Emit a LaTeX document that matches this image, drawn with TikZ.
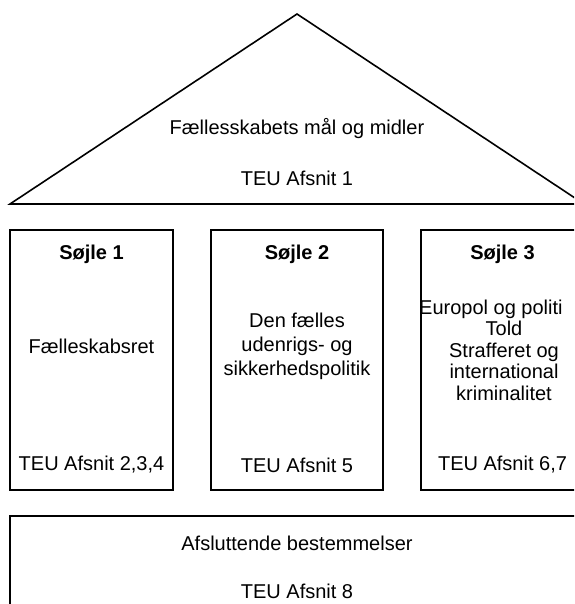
\documentclass[tikz,border=0pt]{standalone}
\usepackage{fontspec}
\setmainfont{Liberation Sans}
\begin{document}
\begin{tikzpicture}[x=1pt, y=-1pt,
		pillar/.style={draw, line width=1.6pt, minimum height=260pt, inner sep=0pt},
		txt/.style={font=\fontsize{20}{24}\selectfont, align=center, inner sep=0pt},
		head/.style={txt, font=\fontsize{20}{24}\selectfont\bfseries}]
			\useasboundingbox (0,0) rectangle (574,604);
			\clip (0,0) rectangle (574,604);

			% Draw roof
			\draw[line width=1.6pt, line join=miter] (10,204) -- (297,14) -- (584,204) -- cycle;
			\node[txt] (maal) at (297,129) {Fællesskabets mål og midler};
			\node[txt] (teu1) at (297,178) {TEU Afsnit 1};

			% Draw pillars
			\node[pillar, minimum width=163pt] (s1) at (91.5,360) {};
			\node[pillar, minimum width=172pt] (s2) at (297,360) {};
			\node[pillar, minimum width=163pt] (s3) at (502.5,360) {};

			\node[head] (h1) at (91.5,254) {Søjle 1};
			\node[head] (h2) at (297,254) {Søjle 2};
			\node[head] (h3) at (502.5,254) {Søjle 3};

			\node[txt] (ret) at (91.5,346) {Fælleskabsret};
			\node[txt] (fusp) at (297,346) {Den fælles\\udenrigs- og\\sikkerhedspolitik};
			\node[txt, anchor=base west] (pol) at (419,314) {Europol og politi};
			\foreach \line [count=\i] in {Told, Strafferet og, international, kriminalitet}
				\node[txt, anchor=base] (l\i) at (504,314+21.5*\i) {\line};

			\node[txt] (teu2) at (91.5,465) {TEU Afsnit 2,3,4};
			\node[txt] (teu5) at (297,465) {TEU Afsnit 5};
			\node[txt] (teu6) at (502.5,465) {TEU Afsnit 6,7};

			% Draw foundation
			\node[pillar, minimum width=574pt, minimum height=130pt] (fund) at (297,581) {};
			\node[txt] (afsl) at (297,543) {Afsluttende bestemmelser};
			\node[txt] (teu8) at (297,591) {TEU Afsnit 8};
		\end{tikzpicture}
\end{document}
